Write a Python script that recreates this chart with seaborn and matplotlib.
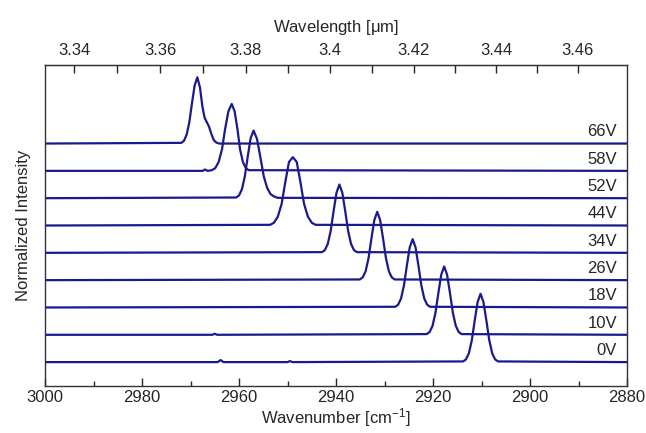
import matplotlib
matplotlib.use("Agg")
import matplotlib.pyplot as plt
import matplotlib.transforms as mtransforms
import seaborn as sns

# Spectra: wavenumber [cm-1] and normalized intensity
wn_0V = [3000, 2964.4, 2963.8, 2963.2, 2950.0, 2949.5, 2949.0, 2913.8, 2913.2, 2912.6, 2912.0, 2911.4,
         2910.8, 2910.2, 2909.6, 2909.0, 2908.4, 2907.8, 2907.2, 2906.6, 2880]
int_0V = [0, 0, 0.03, 0, 0, 0.015, 0, 0.01, 0.04, 0.13, 0.32, 0.61,
          0.88, 1.0, 0.88, 0.61, 0.32, 0.13, 0.04, 0.01, 0]

wn_10V = [3000, 2965.5, 2965.0, 2964.5, 2921.3, 2920.7, 2920.1, 2919.5, 2918.9, 2918.3, 2917.7,
          2917.1, 2916.5, 2915.9, 2915.3, 2914.7, 2914.1, 2880]
int_10V = [0, 0, 0.015, 0, 0.01, 0.04, 0.13, 0.32, 0.61, 0.88, 1.0,
           0.88, 0.61, 0.32, 0.13, 0.04, 0.01, 0]

wn_18V = [3000, 2927.8, 2927.2, 2926.6, 2926.0, 2925.4, 2924.8, 2924.2, 2923.6, 2923.0, 2922.4,
          2921.8, 2921.2, 2920.6, 2880]
int_18V = [0, 0.01, 0.04, 0.13, 0.32, 0.61, 0.88, 1.0, 0.88, 0.61, 0.32, 0.13, 0.04, 0.01, 0]

wn_26V = [3000, 2935.1, 2934.5, 2933.9, 2933.3, 2932.7, 2932.1, 2931.5, 2930.9, 2930.3, 2929.7,
          2929.1, 2928.5, 2927.9, 2880]
int_26V = [0, 0.01, 0.04, 0.13, 0.32, 0.61, 0.88, 1.0, 0.88, 0.61, 0.32, 0.13, 0.04, 0.01, 0]

wn_34V = [3000, 2942.9, 2942.3, 2941.7, 2941.1, 2940.5, 2939.9, 2939.3, 2938.7, 2938.1, 2937.5,
          2936.9, 2936.3, 2935.7, 2880]
int_34V = [0, 0.01, 0.04, 0.13, 0.32, 0.61, 0.88, 1.0, 0.88, 0.61, 0.32, 0.13, 0.04, 0.01, 0]

wn_44V = [3000, 2953.6, 2952.8, 2952.0, 2951.2, 2950.5, 2949.7, 2948.9, 2948.1, 2947.3, 2946.6,
          2945.8, 2945.0, 2944.2, 2880]
int_44V = [0, 0.01, 0.04, 0.13, 0.32, 0.62, 0.93, 1.0, 0.93, 0.62, 0.32, 0.13, 0.04, 0.01, 0]

wn_52V = [3000, 2960.6, 2960.0, 2959.4, 2958.8, 2958.2, 2957.6, 2957.0, 2956.3, 2955.6, 2954.9,
          2954.2, 2953.5, 2952.8, 2952.0, 2880]
int_52V = [0, 0.01, 0.04, 0.13, 0.32, 0.61, 0.88, 0.99, 0.87, 0.6, 0.32, 0.15, 0.06, 0.025, 0.005, 0]

wn_58V = [3000, 2967.5, 2967.0, 2966.5, 2965.6, 2964.9, 2964.2, 2963.5, 2962.9, 2962.2, 2961.5,
          2960.9, 2960.3, 2959.8, 2959.2, 2958.6, 2958.0, 2880]
int_58V = [0, 0, 0.02, 0, 0.01, 0.04, 0.13, 0.32, 0.6, 0.87, 0.98,
           0.87, 0.6, 0.32, 0.13, 0.04, 0.01, 0]

wn_66V = [3000, 2971.9, 2971.35, 2970.8, 2970.25, 2969.7, 2969.15, 2968.6, 2968.05, 2967.55, 2967.1,
          2966.7, 2966.2, 2965.7, 2965.2, 2964.7, 2964.1, 2880]
int_66V = [0, 0.01, 0.04, 0.13, 0.31, 0.59, 0.85, 0.97, 0.82, 0.54, 0.38,
           0.32, 0.25, 0.14, 0.05, 0.015, 0, 0]

voltages = ["0V", "10V", "18V", "26V", "34V", "44V", "52V", "58V", "66V"]
wavenumbers = [wn_0V, wn_10V, wn_18V, wn_26V, wn_34V, wn_44V, wn_52V, wn_58V, wn_66V]
intensities = [int_0V, int_10V, int_18V, int_26V, int_34V, int_44V, int_52V, int_58V, int_66V]

wn_ticks = [3000, 2980, 2960, 2940, 2920, 2900, 2880]
wn_minor = [2990, 2970, 2950, 2930, 2910, 2890]
wl_ticks = [3.34, 3.36, 3.38, 3.40, 3.42, 3.44, 3.46]
wl_labels = ["3.34", "3.36", "3.38", "3.4", "3.42", "3.44", "3.46"]
wl_minor = [3.35, 3.37, 3.39, 3.41, 3.43, 3.45]

sns.set_style("ticks")
plt.rcParams["font.family"] = ["Liberation Sans", "DejaVu Sans"]
plt.rcParams["mathtext.default"] = "regular"

color = "#1a1a8c"
step = 0.4

fig = plt.figure(figsize=(6.46, 4.33), dpi=100)
ax = fig.add_axes([0.0697, 0.1085, 0.9009, 0.7414])

trans = mtransforms.blended_transform_factory(ax.transAxes, ax.transData)
for i, (v, x, y) in enumerate(zip(voltages, wavenumbers, intensities)):
    yy = [val + i * step for val in y]
    sns.lineplot(x=x, y=yy, ax=ax, color=color, linewidth=1.6, sort=False)
    ax.text(0.983, i * step + 0.06, v, transform=trans, ha="right", va="bottom", fontsize=12)

ax.set_xlim(3000, 2880)
ax.set_ylim(-0.35, 4.35)
ax.set_xticks(wn_ticks)
ax.set_xticks(wn_minor, minor=True)
ax.set_yticks([])
ax.tick_params(axis="x", which="major", direction="in", length=6, width=1, labelsize=12, pad=3)
ax.tick_params(axis="x", which="minor", direction="in", length=3.5, width=1)
ax.set_xlabel("Wavenumber [cm$^{-1}$]", fontsize=12, labelpad=1)
ax.set_ylabel("Normalized Intensity", fontsize=12, labelpad=10)
for s in ax.spines.values():
    s.set_color("#333333")
    s.set_linewidth(1.0)

top = ax.secondary_xaxis("top", functions=(lambda w: 1e4 / w, lambda l: 1e4 / l))
top.set_xticks(wl_ticks, wl_labels)
top.set_xticks(wl_minor, minor=True)
top.tick_params(axis="x", which="major", direction="in", length=6, width=1, labelsize=12, pad=5)
top.tick_params(axis="x", which="minor", direction="in", length=6, width=1)
top.set_xlabel("Wavelength [$\\mu$m]", fontsize=12, labelpad=8)

fig.savefig("out.png", dpi=100)
